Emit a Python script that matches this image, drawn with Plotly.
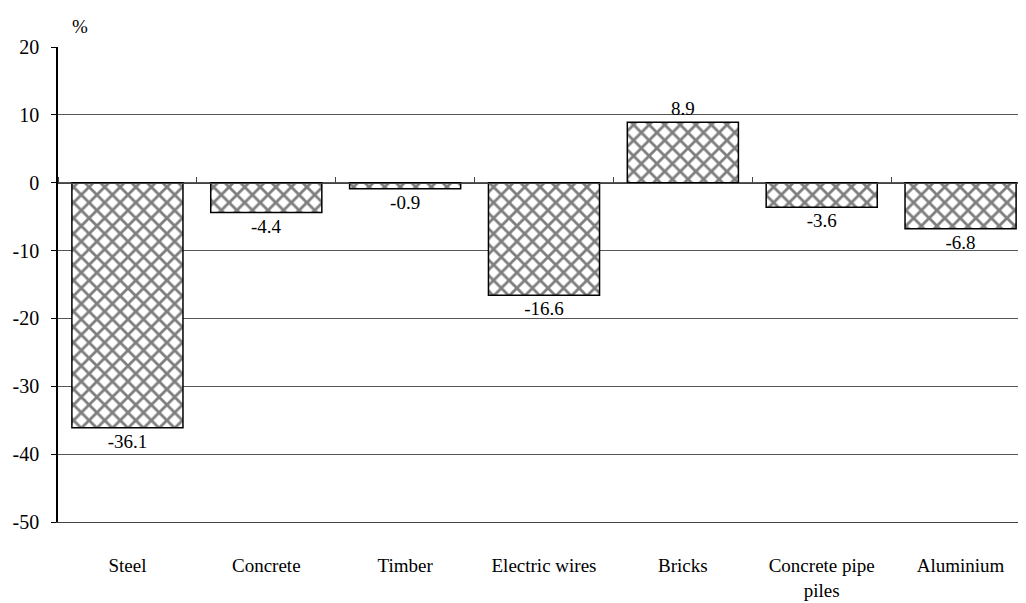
import plotly.graph_objects as go

categories = ["Steel", "Concrete", "Timber", "Electric wires", "Bricks", "Concrete pipe<br>piles", "Aluminium"]
values = [-36.1, -4.4, -0.9, -16.6, 8.9, -3.6, -6.8]
labels = ["-36.1", "-4.4", "-0.9", "-16.6", "8.9", "-3.6", "-6.8"]
y_ticks = [20, 10, 0, -10, -20, -30, -40, -50]
y_ticktext = ["20", "10", "0", "-10", "-20", "-30", "-40", "-50"]

y_min, y_max = -50, 20
FONT = "Liberation Serif, DejaVu Serif"

fig = go.Figure()
fig.add_trace(go.Bar(
    x=categories, y=values, text=labels, textposition="outside",
    textfont=dict(family=FONT, size=19, color="black"),
    cliponaxis=False,
    marker=dict(color="white", line=dict(color="black", width=1.5),
                pattern=dict(shape="x", fgcolor="black", bgcolor="white", size=11, solidity=0.45)),
    width=0.8,
))
fig.add_trace(go.Bar(x=categories, y=[None]*len(categories), xaxis="x2", showlegend=False, hoverinfo="skip"))

fig.update_layout(
    width=1026, height=603,
    margin=dict(l=50, r=4, t=39, b=89),
    paper_bgcolor="white", plot_bgcolor="white",
    showlegend=False,
    font=dict(family=FONT, size=19, color="black"),
    xaxis=dict(showgrid=False, ticks="", showline=True, linecolor="#444", linewidth=1, automargin=False,
               ticklabelstandoff=26, tickfont=dict(family=FONT, size=19), zeroline=False),
    xaxis2=dict(overlaying="x", anchor="free", position=(0 - y_min) / (y_max - y_min), side="top",
                showticklabels=False, ticks="outside", tickson="boundaries", ticklen=6, automargin=False,
                tickcolor="#444", showline=True, linecolor="#444", linewidth=1, showgrid=False,
                matches="x"),
    yaxis=dict(range=[y_min, y_max], tickvals=y_ticks, ticktext=y_ticktext, automargin=False,
               showgrid=True, gridcolor="#555", gridwidth=1,
               zeroline=False, showline=True, linecolor="black", linewidth=1.5,
               ticks="outside", ticklen=5, tickcolor="black", ticklabelstandoff=8,
               tickfont=dict(family=FONT, size=20)),
    annotations=[dict(text="%", x=0, y=1, xref="paper", yref="paper", xanchor="left", yanchor="bottom",
                      xshift=12, yshift=8, showarrow=False, font=dict(family=FONT, size=19))],
)

fig.write_html("out.html")
